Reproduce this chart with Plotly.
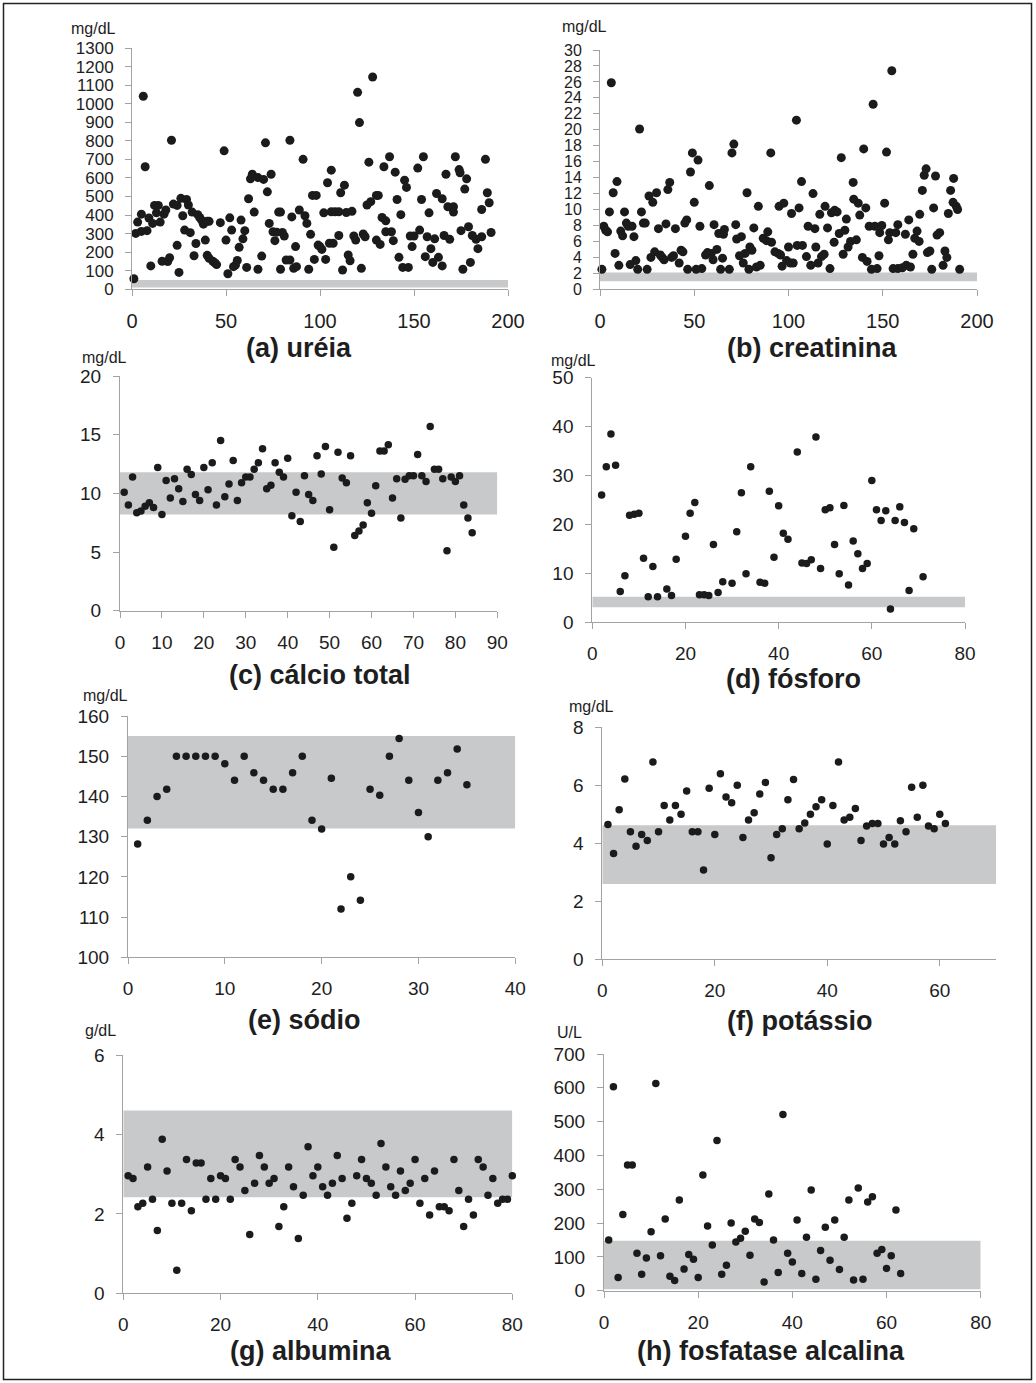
import plotly.graph_objects as go

W, H = 1036, 1383

# ---------------- data ----------------
# (a) ureia
urea_x = [1,2,3,5,5,6,7,8,9,10,11,12,13,14,15,16,17,18,19,20,21,22,24,24,25,26,27,28,29,30,
          31,32,33,34,35,36,37,38,39,40,40,41,41,43,44,45,47,49,50,51,52,53,54,55,56,57,58,59,60,61,
          62,63,64,65,67,67,69,70,71,72,73,74,75,76,77,78,79,79,80,81,82,
          84,85,87,89,91,92,93,84,86,87.5,94,95,97,96,98,99,100,101,102,103,104,106,105,107,106,108,
          110,110,111,113,112,114,117,115,116,118,119,120,121,122,123,124,125,127,126,128,130,131,130,132,133,135,
          134,135,138,137,139,140,141,142,143,144,147,145,146,148,150,149,152,153,154,155,156,157,159,158,
          160,163,161,162,165,165,166,169,167,168,171,171,172,174,174.5,175,177,178,176,180,179,181,183,184,
          186,186,188,189,190,191]
urea_y = [57,301,362,312,405,1040,660,316,384,126,355,452,412,452,362,151,405,427,150,170,803,459,452,237,91,490,396,319,484,454,
          305,416,181,247,402,387,373,351,265,183,366,167,366,151,143,133,359,746,265,84,385,319,122,130,155,226,373,272,316,118,
          488,595,620,416,602,108,179,592,789,525,355,620,310,262,308,416,108,416,306,287,158,
          803,390,230,427,700,396,355,158,113,122,108,296,161,506,506,238,230,215,412,161,574,642,248,248,418,418,
          418,290,520,561,104,414,420,185,154,287,265,1061,898,113,298,283,454,472,685,1144,506,506,265,242,387,369,
          660,310,310,714,262,631,484,172,402,118,118,588,549,287,287,230,653,319,484,714,176,283,219,412,
          145,172,272,516,488,126,290,269,620,445,445,416,714,645,628,316,540,595,108,145,337,290,269,219,
          283,430,700,520,466,306]

# (b) creatinina
creat_x = [1,2,3,4,6,5,7,8,9,10,11,12,13,14,15,16,17,18,19,20,21,22,23,24,25,26,28,27,29,30,
           31,32,33,34,35,36,37,38,40,39,42,43,44,45,46,46.5,48,49,50,51,52,53,54,56,57,58,59,60,60.5,62,
           63,65,65.5,66,64,68.6,70,71,72,72.5,74,75,76,77,78,79,79.5,80.6,81.6,83,84,85,
           86.6,88.3,89,90.6,91,92.8,94.5,95.8,95,97.5,96.6,99,100,101,101.6,102.5,104.2,104.6,107.4,105.6,
           106.9,109.5,110.4,114,111.8,115.7,117.5,118.9,113,114.5,116.6,119.4,120.7,122,122.8,124.5,125.8,124.2,126.9,129.9,
           130.7,128,129,131.6,132.9,136,134.3,134.6,137,137.8,139.2,141.7,139.9,141,142.8,145.8,148.4,144,147,144.9,
           148,149.5,151,152,153,154.8,153.7,156.9,155.5,158,160.4,162.5,164.7,158,162,163.8,166,167,169.3,168.2,
           169.6,171,172,173,173.7,175,176,177,178,178.8,180.2,182,183,184,184.8,186,187.3,189,189.7,187.6,190.8]
creat_y = [2.5,7.9,7.4,7.2,25.9,9.7,12.1,4.5,13.5,3.0,7.3,6.7,9.7,8.3,7.9,3.1,7.9,6.6,3.6,2.5,20.1,9.7,8.3,8.3,2.5,11.7,10.9,4.0,4.7,12.1,
           7.6,4.3,4.0,3.7,8.2,12.5,13.4,4.0,7.6,4.2,3.3,4.9,4.7,8.3,8.7,2.5,14.7,17.1,10.9,2.5,16.2,7.9,2.6,4.3,4.6,13.0,4.5,3.7,8.1,5.0,
           7.0,3.9,6.9,7.5,2.5,2.5,17.1,18.2,8.1,6.3,4.2,6.6,3.3,4.5,12.1,2.5,5.3,4.9,7.7,2.8,10.4,3.0,
           6.4,6.1,7.2,17.1,5.9,4.7,4.5,4.3,10.4,10.8,2.9,3.6,5.3,3.3,9.5,3.3,21.2,5.5,5.5,10.2,
           13.5,4.1,7.9,7.6,3.0,3.3,4.1,4.4,12.0,5.3,9.4,10.4,7.7,2.6,9.6,9.9,9.7,5.9,7.0,7.4,
           8.8,16.5,4.4,5.3,6.0,6.2,13.4,11.3,10.8,9.3,4.0,3.5,17.6,10.2,7.9,7.9,7.1,2.5,2.6,23.2,
           4.2,8.0,10.8,17.2,6.2,27.4,7.1,7.1,2.6,2.6,2.7,3.0,2.8,8.1,6.9,8.7,4.4,6.4,6.0,7.3,
           9.4,12.4,14.3,15.1,4.6,4.8,2.5,10.2,14.2,6.8,7.1,3.0,4.8,4.0,9.5,12.4,10.9,10.4,10.0,13.9,2.5]

# (c) calcio total
calc_x = [1,2,3,4,5,6,7,8,9,10,11,12,13,14,15,16,17,18,19,20,21,22,23,24,25,26,27,28,29,30,
          31,32,33,34,35,36,37,38,39,40,41,42,43,44,45,46,47,48,49,50,51,52,53,54,55,56,57,58,59,60,
          61,62,63,64,65,66,67,68,69,70,71,72,73,74,75,76,77,78,79,80,81,82,83,84]
calc_y = [10.1,9.0,11.4,8.35,8.5,8.9,9.2,8.8,12.2,8.2,11.1,9.6,11.25,10.4,9.3,12.05,11.6,9.9,9.4,12.2,
          10.3,12.6,9.0,14.5,9.7,10.8,12.8,9.4,10.9,11.4,11.4,12.05,12.6,13.8,10.4,10.7,12.6,11.8,11.4,13.0,
          8.1,10.1,7.6,11.5,9.9,9.4,13.2,11.65,14.0,8.6,5.4,13.5,11.3,10.9,13.2,6.4,6.8,7.3,9.2,8.3,
          10.65,13.6,13.6,14.15,9.6,11.25,7.9,11.2,11.5,11.5,13.3,11.5,11.0,15.7,12.05,12.05,11.25,5.1,11.4,11.0,
          11.5,9.0,7.9,6.65]

# (d) fosforo
fosf_x = [2,3,4,5,6,7,8,9,10,11,12,13,14,16,17,18,20,21,22,23,24,25,26,27,28,30,31,32,33,34,
          36,37,38,39,40,41,42,44,45,46,47,48,49,50,51,52,53,54,55,56,57,58,59,60,61,62,63,64,65,66,
          67,68,69,71]
fosf_y = [26.0,31.8,38.5,32.1,6.3,9.5,21.9,22.1,22.3,13.1,5.2,11.4,5.2,6.8,5.5,12.9,17.6,22.3,24.5,5.65,
          5.65,5.5,15.9,6.1,8.3,8.0,18.5,26.5,9.9,31.8,8.2,8.0,26.8,13.3,23.8,18.2,17.0,34.8,12.1,12.0,
          12.8,37.9,11.0,23.0,23.4,15.9,9.9,23.9,7.6,16.6,14.0,11.0,12.0,29.0,23.0,20.8,22.8,2.7,20.8,23.6,
          20.4,6.5,19.1,9.3]

# (e) sodio
sod_x = [1,2,3,4,5,6,7,8,9,10,11,12,13,14,15,16,17,18,19,20,21,22,23,24,25,26,27,28,29,30,31,32,33,34,35]
sod_y = [128.2,134.05,140,141.8,150,150,150,150,150,148.1,144,150,145.9,144,141.8,141.8,145.9,150,134.05,131.9,
         144.5,112,120,114.2,141.8,140.3,150,154.4,144,136,130,144,145.9,151.8,142.9]

# (f) potassio
pot_x = [1,2,3,4,5,6,7,8,9,10,11,12,13,14,15,16,17,18,19,20,21,22,23,24,25,26,27,28,29,30,
         31,32,33,34,35,36,37,38,39,40,41,42,43,44,45,46,47,48,49,50,51,52,53,54,55,56,57,58,59,60,61]
pot_y = [4.65,3.65,5.16,6.22,4.4,3.9,4.3,4.1,6.8,4.4,5.3,4.8,5.3,5.0,5.8,4.4,4.4,3.08,5.9,4.3,
         6.4,5.6,5.4,6.0,4.2,4.8,5.05,5.7,6.1,3.5,4.3,4.5,5.5,6.2,4.5,4.7,5.0,5.26,5.5,3.98,
         5.3,6.8,4.8,4.9,5.2,4.1,4.6,4.68,4.68,3.98,4.2,3.98,4.78,4.4,5.93,4.9,6.0,4.6,4.5,5.0,4.68]

# (g) albumina
alb_x = [1,2,3,4,5,6,7,8,9,10,11,12,13,14,15,16,17,18,19,20,21,22,23,24,25,26,27,28,29,30,
         31,32,33,34,35,36,37,38,39,40,41,42,43,44,45,46,47,48,49,50,51,52,53,54,55,56,57,58,59,60,
         61,62,63,64,65,66,67,68,69,70,71,72,73,74,75,76,77,78,79,80]
alb_y = [2.96,2.89,2.18,2.27,3.18,2.37,1.58,3.88,3.08,2.27,0.58,2.27,3.37,2.08,3.28,3.28,2.37,2.89,2.37,2.96,
         2.89,2.37,3.37,3.18,2.59,1.48,2.77,3.47,3.18,2.77,2.89,1.68,2.18,3.18,2.68,1.38,2.47,3.69,2.96,3.18,
         2.68,2.47,2.77,3.47,2.89,1.89,2.27,2.96,3.37,2.89,2.77,2.47,3.77,3.18,2.68,2.47,3.08,2.59,2.77,3.37,
         2.27,2.89,1.97,3.08,2.18,2.18,2.08,3.37,2.59,1.68,2.37,1.97,3.37,3.18,2.47,2.89,2.27,2.37,2.37,2.96]

# (h) fosfatase alcalina
alp_x = [1,2,3,4,5,6,7,8,9,10,11,12,13,14,15,16,17,18,19,20,21,22,23,24,25,26,27,28,29,30,
         31,32,33,34,35,36,37,38,39,40,41,42,43,44,45,46,47,48,49,50,51,52,53,54,55,56,57,58,59,60,61,62,63]
alp_y = [150,603,39,225,372,372,111,49,97,174,613,103,212,43,30,268,64,107,93,39,342,191,135,444,49,75,200,144,155,176,
         105,212,202,26,286,150,54,521,111,85,209,51,158,298,34,119,188,90,209,63,158,268,32,304,34,262,278,111,122,66,
         103,239,51]

# reference bands (low, high)
band_urea = [10, 50]
band_creat = [1.0, 2.1]
band_calc = [8.2, 11.8]
band_fosf = [3.1, 5.2]
band_sod = [132, 155]
band_pot = [2.6, 4.62]
band_alb = [2.42, 4.6]
band_alp = [4, 148]

titles = ["(a) uréia", "(b) creatinina", "(c) cálcio total", "(d) fósforo",
          "(e) sódio", "(f) potássio", "(g) albumina", "(h) fosfatase alcalina"]
units = ["mg/dL", "mg/dL", "mg/dL", "mg/dL", "mg/dL", "mg/dL", "g/dL", "U/L"]

# ---------------- layout config (pixel geometry) ----------------
panels = [
    dict(x=urea_x, y=urea_y, band=band_urea, xr=[0, 200], yr=[0, 1300], dx=50, dy=100,
         px=(132, 508), py=(48, 289.3), unit_pos=(93, 28), title_pos=(299, 348), yfs=17, xfs=20, ms=9),
    dict(x=creat_x, y=creat_y, band=band_creat, xr=[0, 200], yr=[0, 30], dx=50, dy=2,
         px=(600, 977), py=(50, 289.3), unit_pos=(584, 27), title_pos=(812, 348), yfs=16, xfs=20, ms=9),
    dict(x=calc_x, y=calc_y, band=band_calc, xr=[0, 90], yr=[0, 20], dx=10, dy=5,
         px=(120, 497.3), py=(376, 610.7), unit_pos=(104, 357), title_pos=(320, 675), yfs=19, xfs=19, ms=7.5),
    dict(x=fosf_x, y=fosf_y, band=band_fosf, xr=[0, 80], yr=[0, 50], dx=20, dy=10,
         px=(592.3, 965), py=(377.7, 622.3), unit_pos=(573, 361), title_pos=(793, 679), yfs=19, xfs=19, ms=7.5),
    dict(x=sod_x, y=sod_y, band=band_sod, xr=[0, 40], yr=[100, 160], dx=10, dy=10,
         px=(128, 515.3), py=(716, 957.3), unit_pos=(105, 695), title_pos=(304, 1020), yfs=19, xfs=19, ms=7.5),
    dict(x=pot_x, y=pot_y, band=band_pot, xr=[0, 70], yr=[0, 8], dx=20, dy=2,
         px=(602.3, 996), py=(727.3, 959.3), unit_pos=(591, 706), title_pos=(800, 1021), yfs=19, xfs=19, ms=7.5),
    dict(x=alb_x, y=alb_y, band=band_alb, xr=[0, 80], yr=[0, 6], dx=20, dy=2,
         px=(123.3, 512.3), py=(1055, 1293.3), unit_pos=(100, 1030), title_pos=(310, 1351), yfs=19, xfs=19, ms=7.5),
    dict(x=alp_x, y=alp_y, band=band_alp, xr=[0, 80], yr=[0, 700], dx=20, dy=100,
         px=(604, 980.7), py=(1054, 1290.7), unit_pos=(569, 1032), title_pos=(771, 1351), yfs=19, xfs=19, ms=7.5),
]

AXC = "#a3a3a3"
TXT = "#1e1e1e"
FONT = "Liberation Sans, Arial, sans-serif"

fig = go.Figure()
layout = dict(width=W, height=H, autosize=False, template="none",
              margin=dict(l=0, r=0, t=0, b=0, pad=0),
              paper_bgcolor="white", plot_bgcolor="white",
              font=dict(family=FONT, color=TXT), showlegend=False)
shapes = []
annotations = []

for i, p in enumerate(panels):
    idx = "" if i == 0 else str(i + 1)
    fig.add_trace(go.Scatter(x=p["x"], y=p["y"], mode="markers",
                             marker=dict(color="#1b1b1b", size=p["ms"], line=dict(width=0)),
                             xaxis="x" + idx, yaxis="y" + idx, cliponaxis=False,
                             hoverinfo="skip", showlegend=False))
    layout["xaxis" + idx] = dict(domain=[p["px"][0] / W, p["px"][1] / W], range=p["xr"],
                                 anchor="y" + idx, tick0=0, dtick=p["dx"], showline=True,
                                 linecolor=AXC, linewidth=1, ticks="outside", ticklen=6,
                                 tickcolor=AXC, tickwidth=1, showgrid=False, zeroline=False,
                                 tickfont=dict(size=p["xfs"], color=TXT, family=FONT),
                                 ticklabelstandoff=8, automargin=False, fixedrange=True)
    layout["yaxis" + idx] = dict(domain=[1 - p["py"][1] / H, 1 - p["py"][0] / H], range=p["yr"],
                                 anchor="x" + idx, tick0=0, dtick=p["dy"], showline=True,
                                 linecolor=AXC, linewidth=1, ticks="outside", ticklen=6,
                                 tickcolor=AXC, tickwidth=1, showgrid=False, zeroline=False,
                                 tickfont=dict(size=p["yfs"], color=TXT, family=FONT),
                                 ticklabelstandoff=8, automargin=False, fixedrange=True)
    shapes.append(dict(type="rect", xref="x" + idx, yref="y" + idx,
                       x0=p["xr"][0], x1=p["xr"][1], y0=p["band"][0], y1=p["band"][1],
                       fillcolor="#c8c9cb", line=dict(width=0), layer="below"))
    annotations.append(dict(text=units[i], xref="paper", yref="paper",
                            x=p["unit_pos"][0] / W, y=1 - p["unit_pos"][1] / H,
                            xanchor="center", yanchor="middle", showarrow=False,
                            font=dict(size=16, color=TXT, family=FONT)))
    annotations.append(dict(text="<b>" + titles[i] + "</b>", xref="paper", yref="paper",
                            x=p["title_pos"][0] / W, y=1 - p["title_pos"][1] / H,
                            xanchor="center", yanchor="middle", showarrow=False,
                            font=dict(size=27, color=TXT, family=FONT)))

# outer frame
shapes.append(dict(type="rect", xref="paper", yref="paper",
                   x0=3.5 / W, x1=1031.5 / W, y0=1 - 1379.5 / H, y1=1 - 3.5 / H,
                   line=dict(color="#222222", width=1.5), fillcolor="rgba(0,0,0,0)", layer="above"))

layout["shapes"] = shapes
layout["annotations"] = annotations
fig.update_layout(**layout)

fig.write_html("out.html", config={"displayModeBar": False, "staticPlot": True},
               post_script="document.body.style.margin='0';")
